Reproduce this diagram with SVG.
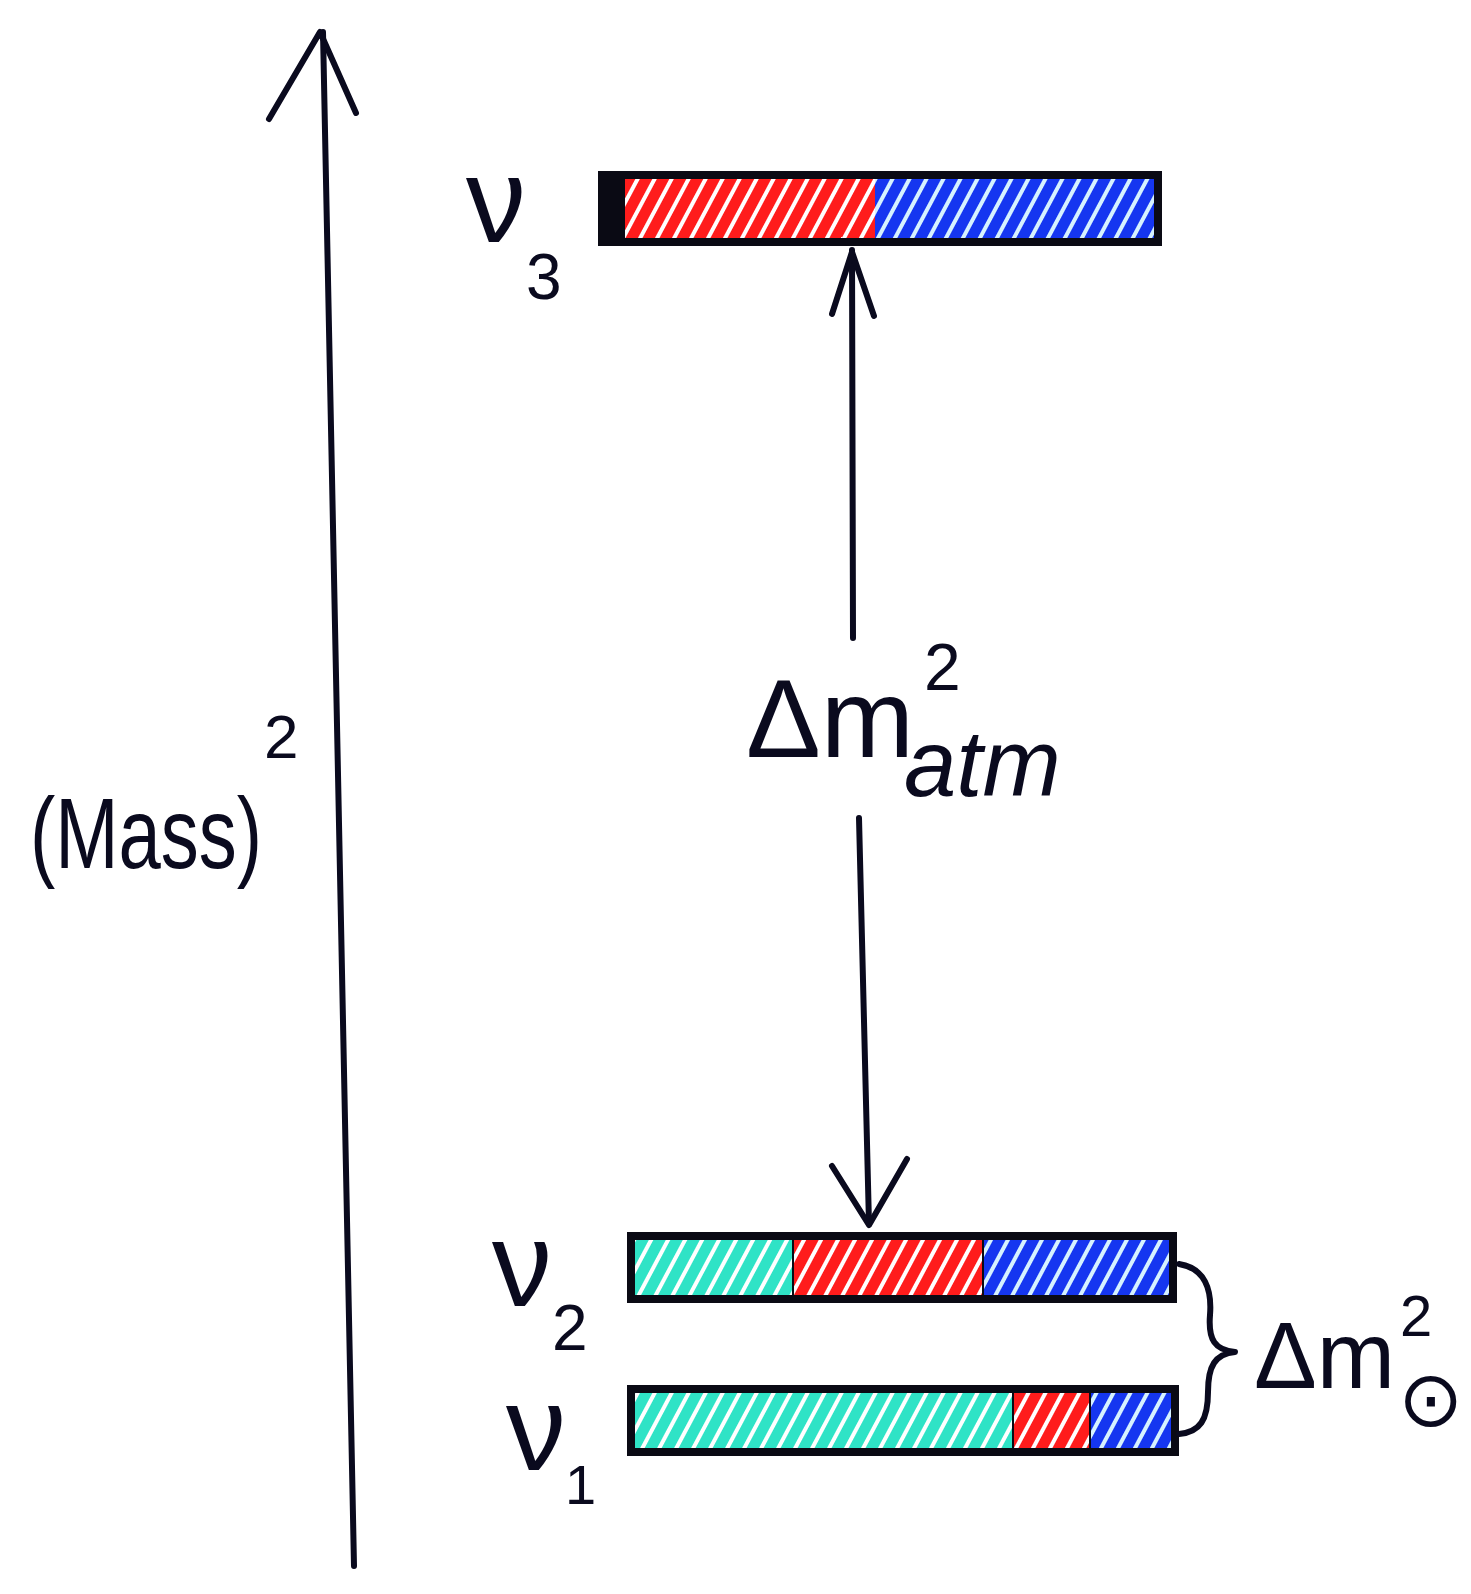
<svg xmlns="http://www.w3.org/2000/svg" width="1471" height="1594" viewBox="0 0 1471 1594">
  <style>
    .ink { fill: none; stroke: #0a0a1e; stroke-width: 6; stroke-linecap: round; stroke-linejoin: round; }
    .bar { fill: none; stroke: #0a0a14; stroke-width: 8; }
    .lbl { font-family: "Liberation Sans", "DejaVu Sans", sans-serif; fill: #0a0a1e; }
    .it { font-style: italic; }
  </style>
  <defs>
    <pattern id="hRed" patternUnits="userSpaceOnUse" width="15" height="15" patternTransform="rotate(28)">
      <rect width="15" height="15" fill="#ff1c1c"/>
      <rect x="0" y="0" width="4" height="15" fill="#ffffff"/>
    </pattern>
    <pattern id="hBlue" patternUnits="userSpaceOnUse" width="15" height="15" patternTransform="rotate(28)">
      <rect width="15" height="15" fill="#1536f0"/>
      <rect x="0" y="0" width="4" height="15" fill="#d6f2ff"/>
    </pattern>
    <pattern id="hCyan" patternUnits="userSpaceOnUse" width="15" height="15" patternTransform="rotate(28)">
      <rect width="15" height="15" fill="#2fe3c6"/>
      <rect x="0" y="0" width="4" height="15" fill="#ffffff"/>
    </pattern>
  </defs>
  <rect width="1471" height="1594" fill="#ffffff"/>

  <g id="axis">
    <path class="ink" d="M323,32 L354,1566"/>
    <path class="ink" d="M269,119 L320,32 L356,113"/>
    <g id="axis-label">
      <text class="lbl" x="30" y="868" font-size="100" textLength="232" lengthAdjust="spacingAndGlyphs">(Mass)</text>
      <text class="lbl" x="264" y="758" font-size="62">2</text>
    </g>
  </g>

  <g id="nu3">
    <rect x="598" y="175" width="27" height="67" fill="#0a0a14"/>
    <rect x="625" y="175" width="250" height="67" fill="url(#hRed)"/>
    <rect x="875" y="175" width="283" height="67" fill="url(#hBlue)"/>
    <rect class="bar" x="602" y="175" width="556" height="67"/>
    <text class="lbl" x="466" y="242" font-size="120">ν</text>
    <text class="lbl" x="526" y="299" font-size="64">3</text>
  </g>

  <g id="nu2">
    <rect x="631" y="1236" width="162" height="63" fill="url(#hCyan)"/>
    <rect x="793" y="1236" width="190" height="63" fill="url(#hRed)"/>
    <rect x="983" y="1236" width="190" height="63" fill="url(#hBlue)"/>
    <path d="M793,1236 V1299 M983,1236 V1299" stroke="#0a0a14" stroke-width="2"/>
    <rect class="bar" x="631" y="1236" width="542" height="63"/>
    <text class="lbl" x="492" y="1306" font-size="120">ν</text>
    <text class="lbl" x="552" y="1350" font-size="64">2</text>
  </g>

  <g id="nu1">
    <rect x="631" y="1389" width="382" height="63" fill="url(#hCyan)"/>
    <rect x="1013" y="1389" width="77" height="63" fill="url(#hRed)"/>
    <rect x="1090" y="1389" width="85" height="63" fill="url(#hBlue)"/>
    <path d="M1013,1389 V1452 M1090,1389 V1452" stroke="#0a0a14" stroke-width="2"/>
    <rect class="bar" x="631" y="1389" width="544" height="63"/>
    <text class="lbl" x="506" y="1470" font-size="120">ν</text>
    <text class="lbl" x="565" y="1504" font-size="56">1</text>
  </g>

  <g id="connectors">
    <path class="ink" d="M852,250 L853,638"/>
    <path class="ink" d="M832,314 L852,252 L874,316"/>
    <path class="ink" d="M859,818 L869,1224"/>
    <path class="ink" d="M832,1166 L869,1225 L907,1159"/>
    <path class="ink" d="M1179,1264 C1205,1268 1212,1290 1210,1315 C1208,1340 1215,1350 1235,1352 C1215,1354 1208,1366 1208,1392 C1208,1420 1200,1432 1179,1434"/>
  </g>

  <g id="dm-atm">
    <text class="lbl" x="746" y="757" font-size="112">Δm</text>
    <text class="lbl" x="924" y="690" font-size="66">2</text>
    <text class="lbl it" x="904" y="796" font-size="94">atm</text>
  </g>

  <g id="dm-sol">
    <text class="lbl" x="1254" y="1388" font-size="94">Δm</text>
    <text class="lbl" x="1400" y="1336" font-size="58">2</text>
    <text class="lbl" x="1398" y="1426" font-size="78">⊙</text>
  </g>
</svg>
